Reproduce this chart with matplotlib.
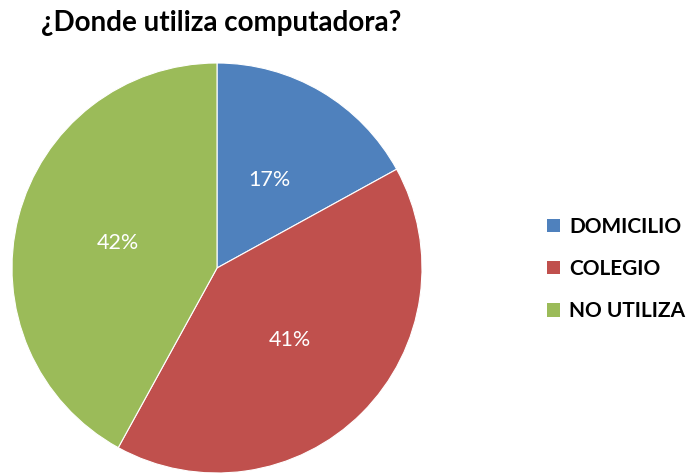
import matplotlib
matplotlib.use("Agg")
import matplotlib.pyplot as plt
from matplotlib.patches import Patch

title = "¿Donde utiliza computadora?"
categories = ["DOMICILIO", "COLEGIO", "NO UTILIZA"]
values = [17, 41, 42]
colors = ["#4F81BD", "#C0504D", "#9BBB59"]

plt.rcParams['font.family'] = ['Lato', 'DejaVu Sans']

fig = plt.figure(figsize=(6.91, 4.74), dpi=100)
W, H = 691, 474
cx, cy, r = 217, 268, 205
ax = fig.add_axes([(cx - r) / W, (H - cy - r) / H, 2 * r / W, 2 * r / H])
wedges, texts, autotexts = ax.pie(
    values, colors=colors, startangle=90, counterclock=False,
    autopct=lambda p: f"{p:.0f}%", pctdistance=0.5, radius=1,
    wedgeprops=dict(linewidth=0.8, edgecolor="white"),
    textprops=dict(color="white", fontsize=15.5))
ax.set_xlim(-1, 1)
ax.set_ylim(-1, 1)
ax.set_aspect("equal")

fig.text(41 / W, 1 - 23 / H, title, fontsize=20, fontweight="bold",
         ha="left", va="center", color="black")

handles = [Patch(facecolor=c, edgecolor="none") for c in colors]
fig.legend(handles, categories, loc="center left", bbox_to_anchor=(547 / W, 1 - 269 / H),
           frameon=False, prop=dict(size=15, weight="bold"), borderpad=0, borderaxespad=0,
           handlelength=0.62, handleheight=0.62, handletextpad=0.45, labelspacing=1.07)

fig.savefig("out.png", dpi=100)
